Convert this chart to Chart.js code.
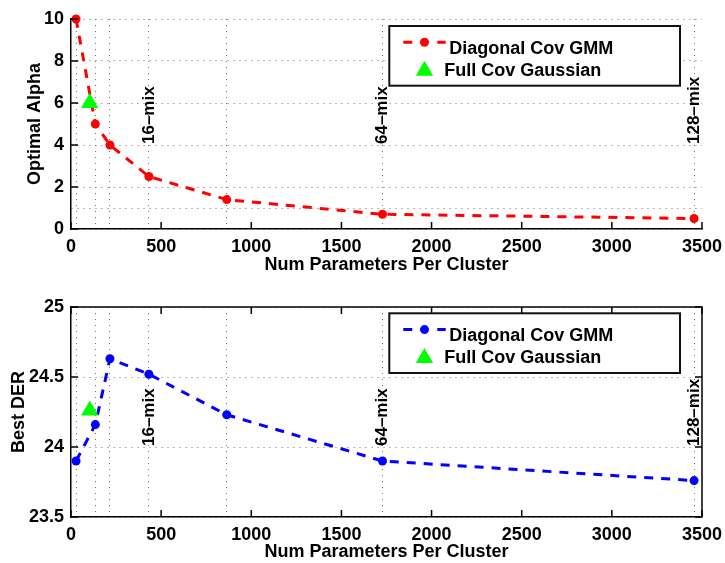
<!DOCTYPE html>
<html><head><meta charset="utf-8">
<script src="https://cdn.jsdelivr.net/npm/chart.js@4.4.1/dist/chart.umd.min.js"></script>
<style>
html,body{margin:0;padding:0;background:#fff;}
#wrap{position:relative;width:725px;height:563px;overflow:hidden;background:#fff;}
canvas{position:absolute;left:0;}
#c1{top:0}
#c2{top:280px}
</style></head><body>
<div id="wrap"><canvas id="c1" width="725" height="280"></canvas><canvas id="c2" width="725" height="283"></canvas></div>
<script>
// ---- data ----
const numParams    = [28, 135, 216, 432, 864, 1728, 3456];
const optimalAlpha = [10, 5, 4, 2.5, 1.4, 0.7, 0.5];
const bestDER      = [23.9, 24.16, 24.63, 24.52, 24.23, 23.9, 23.76];
const fullCovParams = [104];
const fullCovAlpha  = [6];
const fullCovDER    = [24.26];
const mixX     = [432, 1728, 3456];
const mixText  = ['16–mix', '64–mix', '128–mix'];
const xTicks     = [0, 500, 1000, 1500, 2000, 2500, 3000, 3500];
const alphaTicks = [0, 2, 4, 6, 8, 10];
const alphaExtraGrid = [1];
const derTicks   = [23.5, 24, 24.5, 25];
const seriesNames = ['Diagonal Cov GMM', 'Full Cov Gaussian'];
const xTitle = 'Num Parameters Per Cluster';

const FONT = "'Liberation Sans', Arial, Helvetica, sans-serif";
Chart.defaults.font.family = FONT;
Chart.defaults.font.size = 18;
Chart.defaults.font.weight = 'bold';
Chart.defaults.color = '#000';

const GRID = '#707070';
const CLEAR = 'rgba(0,0,0,0)';

const decor = {
  id: 'decor',
  afterDraw(chart, args, opts) {
    const {ctx, chartArea: ca} = chart;
    const x = chart.scales.x, y = chart.scales.y;
    ctx.save();
    ctx.setLineDash([]);
    ctx.strokeStyle = '#000';
    ctx.lineWidth = 1.5;
    if (opts.box) {
      ctx.beginPath();
      ctx.moveTo(ca.left, ca.top); ctx.lineTo(ca.right, ca.top); ctx.lineTo(ca.right, ca.bottom);
      ctx.stroke();
    }
    const TL = 7;
    ctx.beginPath();
    x.ticks.forEach(t => {
      if (!xTicks.includes(t.value)) return;
      const px = x.getPixelForValue(t.value);
      ctx.moveTo(px, ca.bottom); ctx.lineTo(px, ca.bottom - TL);
      if (opts.box) { ctx.moveTo(px, ca.top); ctx.lineTo(px, ca.top + TL); }
    });
    const yl = opts.box ? derTicks : alphaTicks;
    y.ticks.forEach(t => {
      if (!yl.includes(t.value)) return;
      const py = y.getPixelForValue(t.value);
      ctx.moveTo(ca.left, py); ctx.lineTo(ca.left + TL, py);
      if (opts.box) { ctx.moveTo(ca.right, py); ctx.lineTo(ca.right - TL, py); }
    });
    ctx.stroke();

    // rotated mixture annotations
    ctx.fillStyle = '#000';
    ctx.font = 'bold 17px ' + FONT;
    mixX.forEach((v, i) => {
      ctx.save();
      ctx.translate(x.getPixelForValue(v), y.getPixelForValue(opts.noteY));
      ctx.rotate(-Math.PI / 2);
      ctx.textAlign = 'left';
      ctx.textBaseline = 'middle';
      ctx.fillText(mixText[i], 1, 0);
      ctx.restore();
    });

    // legend
    const ds = chart.data.datasets;
    const bl = ca.right - 312.7, bt = ca.top + opts.legTop, bw = 290.7, bh = 59.7;
    ctx.fillStyle = '#fff';
    ctx.fillRect(bl, bt, bw, bh);
    ctx.strokeStyle = '#111';
    ctx.lineWidth = 2;
    ctx.strokeRect(bl, bt, bw, bh);
    const l = ds[1];
    ctx.strokeStyle = l.borderColor;
    ctx.lineWidth = 3;
    ctx.beginPath();
    ctx.moveTo(bl + 14, bt + 16.3); ctx.lineTo(bl + 23, bt + 16.3);
    ctx.moveTo(bl + 48, bt + 16.3); ctx.lineTo(bl + 56.4, bt + 16.3);
    ctx.stroke();
    ctx.fillStyle = l.pointBackgroundColor;
    ctx.beginPath(); ctx.arc(bl + 35.2, bt + 16.3, 4.5, 0, Math.PI * 2); ctx.fill();
    const tr = ds[0];
    ctx.fillStyle = tr.pointBackgroundColor;
    const cx = bl + 35.2, cy = bt + 44.7, r = 10;
    ctx.beginPath();
    ctx.moveTo(cx, cy - r);
    ctx.lineTo(cx + Math.sin(2*Math.PI/3) * r, cy - Math.cos(2*Math.PI/3) * r);
    ctx.lineTo(cx + Math.sin(4*Math.PI/3) * r, cy - Math.cos(4*Math.PI/3) * r);
    ctx.closePath(); ctx.fill();
    ctx.fillStyle = '#000';
    ctx.font = 'bold 18px ' + FONT;
    ctx.textAlign = 'left';
    ctx.textBaseline = 'alphabetic';
    ctx.fillText(l.label, bl + 60, bt + 28);
    ctx.fillText(tr.label, bl + 55, bt + 50);
    ctx.restore();
  }
};

function makeChart(id, cfg) {
  return new Chart(document.getElementById(id), {
    type: 'scatter',
    data: {
      datasets: [
        {
          label: seriesNames[1],
          data: fullCovParams.map((v, i) => ({x: v, y: cfg.tri[i]})),
          showLine: false,
          pointStyle: 'triangle',
          pointRadius: 10,
          pointBackgroundColor: '#00ff00',
          pointBorderWidth: 0,
          borderWidth: 0,
          clip: false,
          order: 0
        },
        {
          label: seriesNames[0],
          data: numParams.map((v, i) => ({x: v, y: cfg.vals[i]})),
          showLine: true,
          borderColor: cfg.color,
          borderWidth: 3,
          borderDash: [9, 8],
          pointRadius: 4.5,
          pointBackgroundColor: cfg.color,
          pointBorderWidth: 0,
          tension: 0,
          clip: false,
          order: 1
        }
      ]
    },
    options: {
      responsive: false,
      animation: false,
      devicePixelRatio: 1,
      events: [],
      layout: {padding: {top: cfg.padTop, right: 23, left: 0, bottom: 0}},
      plugins: {
        legend: {display: false},
        tooltip: {enabled: false},
        decor: {box: cfg.box, noteY: cfg.noteY, legTop: cfg.legTop}
      },
      scales: {
        x: {
          type: 'linear', min: 0, max: 3500,
          afterBuildTicks: s => {
            s.ticks = [...new Set([...xTicks, ...numParams])].sort((a, b) => a - b).map(v => ({value: v}));
          },
          ticks: {autoSkip: false, maxRotation: 0, padding: 7, color: '#000',
                  callback: v => xTicks.includes(v) ? String(v) : ''},
          grid: {drawTicks: false, lineWidth: 1,
                 color: c => (c.tick && numParams.includes(c.tick.value)) ? GRID : CLEAR},
          border: {display: true, color: '#000', width: 1.5, dash: [1, 5]},
          title: {display: true, text: xTitle, color: '#000', padding: {top: 0, bottom: cfg.xTitlePad}},
          afterFit: s => { s.height = cfg.xHeight; s.paddingLeft = 0; s.paddingRight = 0; }
        },
        y: {
          type: 'linear', min: cfg.ymin, max: cfg.ymax,
          afterBuildTicks: s => {
            s.ticks = [...new Set([...cfg.yTicks, ...cfg.yExtra])].sort((a, b) => a - b).map(v => ({value: v}));
          },
          ticks: {padding: 7, color: '#000',
                  callback: v => cfg.yTicks.includes(v) ? String(v) : ''},
          grid: {drawTicks: false, lineWidth: 1, color: GRID},
          border: {display: true, color: '#000', width: 1.5, dash: [1, 5]},
          title: {display: true, text: cfg.yTitle, color: '#000', padding: {top: cfg.yTitlePad, bottom: 0}},
          afterFit: s => { s.width = 71; s.paddingTop = 0; s.paddingBottom = 0; }
        }
      }
    },
    plugins: [decor]
  });
}

makeChart('c1', {
  vals: optimalAlpha, tri: fullCovAlpha, color: '#ff0000',
  ymin: 0, ymax: 10, yTicks: alphaTicks, yExtra: alphaExtraGrid,
  yTitle: 'Optimal Alpha', yTitlePad: 24, xTitlePad: 3.7, xHeight: 51, padTop: 19,
  box: false, noteY: 4, legTop: 7
});
makeChart('c2', {
  vals: bestDER, tri: fullCovDER, color: '#0000ff',
  ymin: 23.5, ymax: 25, yTicks: derTicks, yExtra: [],
  yTitle: 'Best DER', yTitlePad: 8.4, xTitlePad: 0, xHeight: 46, padTop: 27,
  box: true, noteY: 24, legTop: 6.3
});
</script>
</body></html>
